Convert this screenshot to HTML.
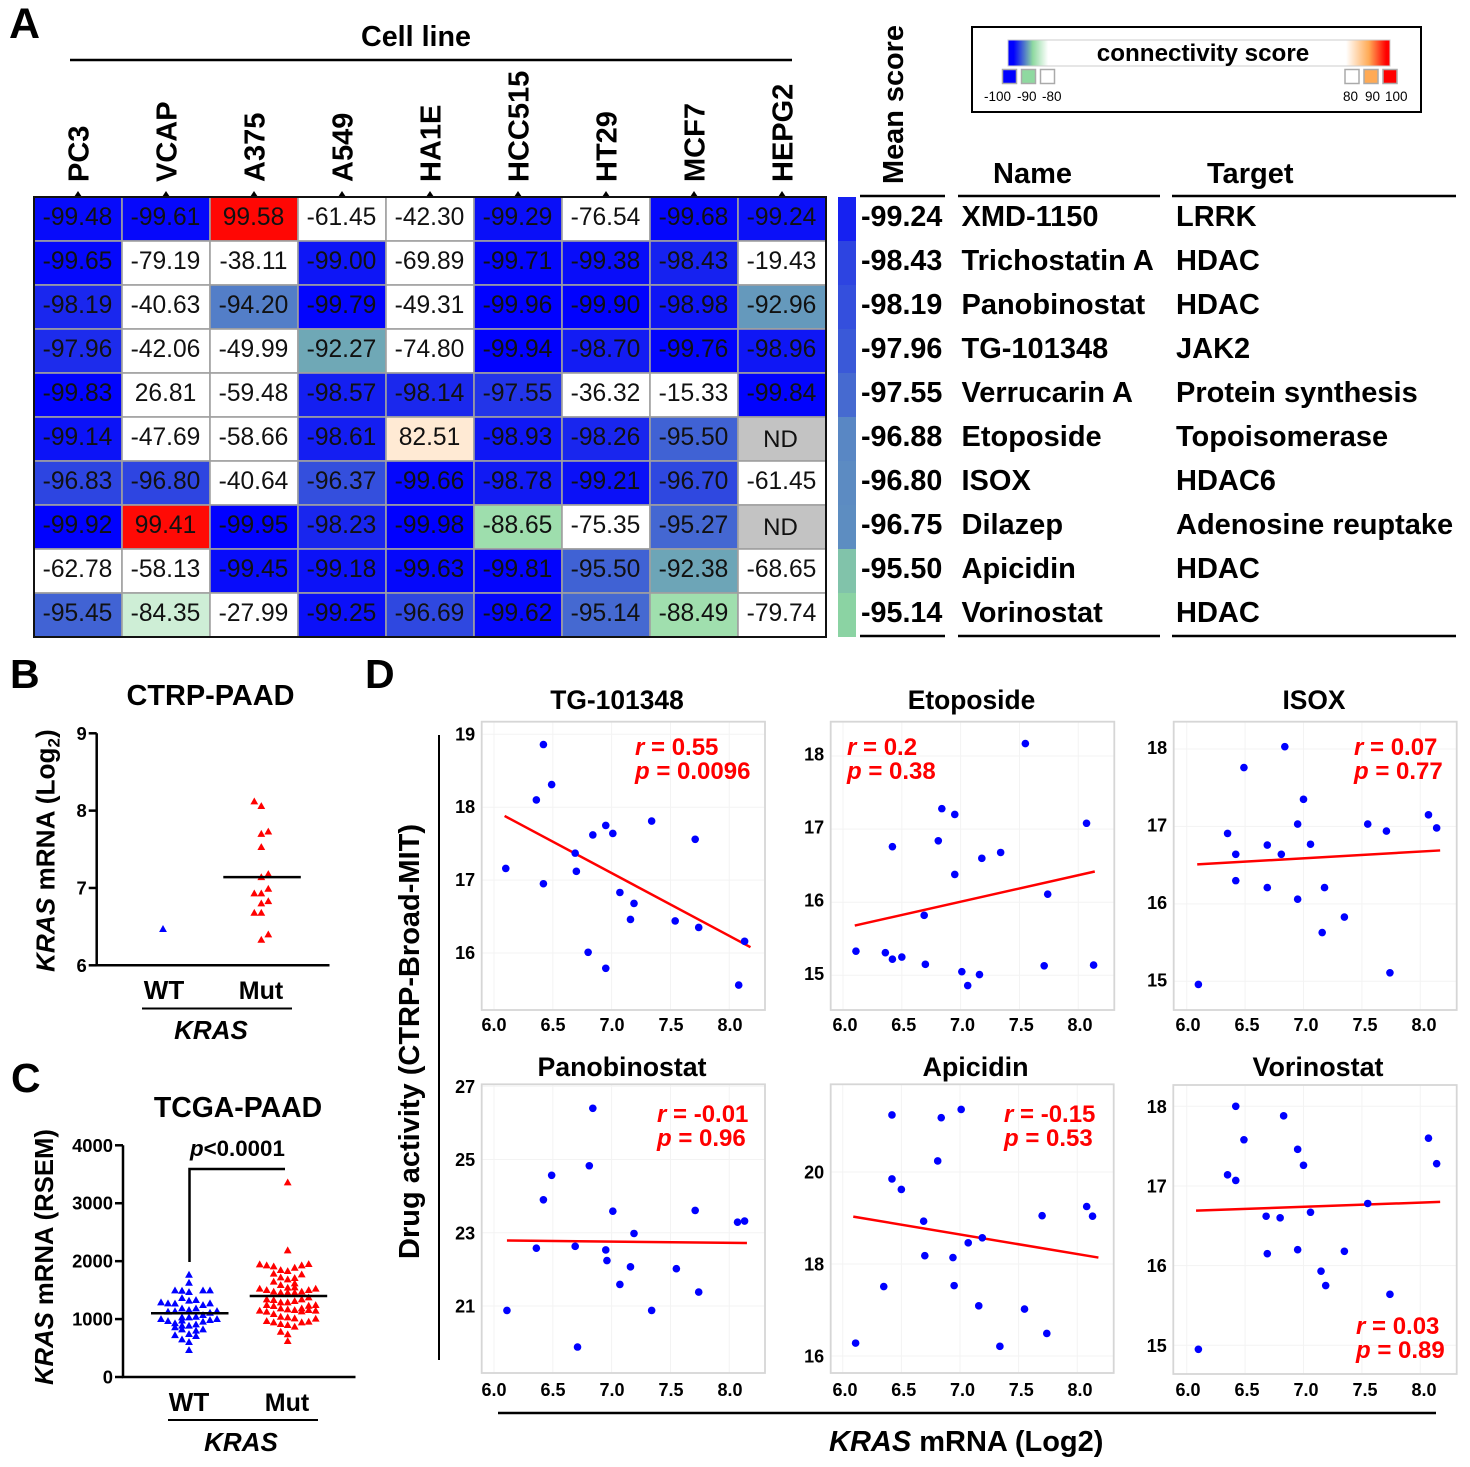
<!DOCTYPE html>
<html lang="en">
<head>
<meta charset="utf-8">
<title>KRAS connectivity figure</title>
<style>
html,body{margin:0;padding:0;background:#fff;}
svg{display:block;font-family:"Liberation Sans",sans-serif;}
.b{font-weight:bold;}
.i{font-style:italic;}
</style>
</head>
<body>
<svg id="fig" xmlns="http://www.w3.org/2000/svg" width="1470" height="1467" viewBox="0 0 1470 1467">
<defs>
<linearGradient id="scoreGrad" x1="0" x2="1" y1="0" y2="0">
<stop offset="0.015" stop-color="#0000ff"/>
<stop offset="0.065" stop-color="#8fd9a0"/>
<stop offset="0.105" stop-color="#ffffff"/>
<stop offset="0.885" stop-color="#ffffff"/>
<stop offset="0.945" stop-color="#ffaa55"/>
<stop offset="0.99" stop-color="#ff0000"/>
</linearGradient>
</defs>
<rect width="1470" height="1467" fill="#fff"/>

<!-- Panel letters -->
<text class="b" x="9" y="38" font-size="43">A</text>
<text class="b" x="10" y="688" font-size="41">B</text>
<text class="b" x="11" y="1092" font-size="41">C</text>
<text class="b" x="365" y="688" font-size="41">D</text>

<!-- Panel A headers -->
<text class="b" x="416" y="46" font-size="28.7" text-anchor="middle">Cell line</text>
<line x1="70" x2="792" y1="60" y2="60" stroke="#000" stroke-width="2.5"/>
<text class="b" font-size="28.9" transform="translate(903 184) rotate(-90)">Mean score</text>
<text class="b" x="993" y="183" font-size="29">Name</text>
<text class="b" x="1207" y="183" font-size="29">Target</text>
<g id="heatmap"></g>
<g id="table"></g>

<!-- Legend -->
<g>
<rect x="972" y="27" width="449" height="85" fill="#fff" stroke="#000" stroke-width="2"/>
<rect x="1008" y="40" width="382" height="26" fill="url(#scoreGrad)" stroke="#ccc" stroke-width="1"/>
<text class="b" x="1203" y="61" font-size="24.2" text-anchor="middle">connectivity score</text>
<rect x="1002.5" y="69.5" width="14" height="14" fill="#0000ff" stroke="#aaa" stroke-width="1.5"/>
<rect x="1021.5" y="69.5" width="14" height="14" fill="#8fd9a0" stroke="#aaa" stroke-width="1.5"/>
<rect x="1040.5" y="69.5" width="14" height="14" fill="#fff" stroke="#aaa" stroke-width="1.5"/>
<rect x="1345" y="69.5" width="14" height="14" fill="#fff" stroke="#aaa" stroke-width="1.5"/>
<rect x="1364" y="69.5" width="14" height="14" fill="#ffaa55" stroke="#aaa" stroke-width="1.5"/>
<rect x="1383" y="69.5" width="14" height="14" fill="#ff0000" stroke="#aaa" stroke-width="1.5"/>
<text x="984" y="101" font-size="13.5">-100</text>
<text x="1017" y="101" font-size="13.5">-90</text>
<text x="1042" y="101" font-size="13.5">-80</text>
<text x="1343" y="101" font-size="13.5">80</text>
<text x="1365" y="101" font-size="13.5">90</text>
<text x="1385" y="101" font-size="13.5">100</text>
</g>

<!-- Panel B static -->
<text class="b" x="210.5" y="705" font-size="28.9" text-anchor="middle">CTRP-PAAD</text>
<text class="b" font-size="26.2" transform="translate(54.5 972) rotate(-90)"><tspan class="i">KRAS</tspan> mRNA (Log<tspan font-size="17" dy="5">2</tspan><tspan dy="-5">)</tspan></text>
<text class="b" x="164" y="999" font-size="26" text-anchor="middle">WT</text>
<text class="b" x="261" y="999" font-size="25" text-anchor="middle">Mut</text>
<line x1="142" x2="292" y1="1008.5" y2="1008.5" stroke="#000" stroke-width="2"/>
<text class="b i" x="211" y="1039" font-size="26" text-anchor="middle">KRAS</text>
<g id="panelB"></g>

<!-- Panel C static -->
<text class="b" x="238" y="1117" font-size="28.4" text-anchor="middle">TCGA-PAAD</text>
<text class="b" font-size="25.7" transform="translate(53 1385) rotate(-90)"><tspan class="i">KRAS</tspan> mRNA (RSEM)</text>
<text class="b" x="190" y="1156" font-size="22.3"><tspan class="i">p</tspan>&lt;0.0001</text>
<path d="M189.5 1262V1169H285" fill="none" stroke="#000" stroke-width="2.5"/>
<text class="b" x="189" y="1411" font-size="26" text-anchor="middle">WT</text>
<text class="b" x="287" y="1411" font-size="25" text-anchor="middle">Mut</text>
<line x1="168" x2="318" y1="1420" y2="1420" stroke="#000" stroke-width="2"/>
<text class="b i" x="241" y="1451" font-size="26" text-anchor="middle">KRAS</text>
<g id="panelC"></g>

<!-- Panel D static -->
<text class="b" font-size="29" transform="translate(419 1259) rotate(-90)">Drug activity (CTRP-Broad-MIT)</text>
<line x1="439" x2="439" y1="735" y2="1360" stroke="#000" stroke-width="2"/>
<line x1="498" x2="1436" y1="1413" y2="1413" stroke="#000" stroke-width="2.5"/>
<text class="b" x="829" y="1451" font-size="29"><tspan class="i">KRAS</tspan> mRNA (Log2)</text>
<text class="b" x="617" y="709" font-size="26.4" text-anchor="middle">TG-101348</text>
<text class="b" x="971.5" y="709" font-size="26.4" text-anchor="middle">Etoposide</text>
<text class="b" x="1314" y="709" font-size="26.4" text-anchor="middle">ISOX</text>
<text class="b" x="622" y="1076" font-size="26.7" text-anchor="middle">Panobinostat</text>
<text class="b" x="975.5" y="1076" font-size="26.9" text-anchor="middle">Apicidin</text>
<text class="b" x="1318" y="1076" font-size="26.9" text-anchor="middle">Vorinostat</text>
<g id="panelD"></g>
<g fill="#ff0000" font-size="24" font-weight="bold">
<text x="635" y="755"><tspan class="i">r</tspan> = 0.55</text>
<text x="635" y="779"><tspan class="i">p</tspan> = 0.0096</text>
<text x="847" y="755"><tspan class="i">r</tspan> = 0.2</text>
<text x="847" y="779"><tspan class="i">p</tspan> = 0.38</text>
<text x="1354" y="755"><tspan class="i">r</tspan> = 0.07</text>
<text x="1354" y="779"><tspan class="i">p</tspan> = 0.77</text>
<text x="657" y="1122"><tspan class="i">r</tspan> = -0.01</text>
<text x="657" y="1146"><tspan class="i">p</tspan> = 0.96</text>
<text x="1004" y="1122"><tspan class="i">r</tspan> = -0.15</text>
<text x="1004" y="1146"><tspan class="i">p</tspan> = 0.53</text>
<text x="1356" y="1334"><tspan class="i">r</tspan> = 0.03</text>
<text x="1356" y="1358"><tspan class="i">p</tspan> = 0.89</text>
</g>
</svg>

<script>
// ---------- Panel A data ----------
const cellLines = ['PC3','VCAP','A375','A549','HA1E','HCC515','HT29','MCF7','HEPG2'];
const heatValues = [
[-99.48,-99.61,99.58,-61.45,-42.30,-99.29,-76.54,-99.68,-99.24],
[-99.65,-79.19,-38.11,-99.00,-69.89,-99.71,-99.38,-98.43,-19.43],
[-98.19,-40.63,-94.20,-99.79,-49.31,-99.96,-99.90,-98.98,-92.96],
[-97.96,-42.06,-49.99,-92.27,-74.80,-99.94,-98.70,-99.76,-98.96],
[-99.83,26.81,-59.48,-98.57,-98.14,-97.55,-36.32,-15.33,-99.84],
[-99.14,-47.69,-58.66,-98.61,82.51,-98.93,-98.26,-95.50,null],
[-96.83,-96.80,-40.64,-96.37,-99.66,-98.78,-99.21,-96.70,-61.45],
[-99.92,99.41,-99.95,-98.23,-99.98,-88.65,-75.35,-95.27,null],
[-62.78,-58.13,-99.45,-99.18,-99.63,-99.81,-95.50,-92.38,-68.65],
[-95.45,-84.35,-27.99,-99.25,-96.69,-99.62,-95.14,-88.49,-79.74]
];
const meanScores = [-99.24,-98.43,-98.19,-97.96,-97.55,-96.88,-96.80,-96.75,-95.50,-95.14];
const drugNames = ['XMD-1150','Trichostatin A','Panobinostat','TG-101348','Verrucarin A','Etoposide','ISOX','Dilazep','Apicidin','Vorinostat'];
const drugTargets = ['LRRK','HDAC','HDAC','JAK2','Protein synthesis','Topoisomerase','HDAC6','Adenosine reuptake','HDAC','HDAC'];

// ---------- Panel B data ----------
const bTicks = [6,7,8,9];
const bWTValues = [6.47];
const bWTSlots = [0];
const bMutValues = [8.12,8.06,7.70,7.73,7.53,7.14,7.18,6.99,6.93,6.93,6.80,6.83,6.68,6.68,6.40,6.33];
const bMutSlots = [-1,0,0,1,0,0,1,1,-1,0,0,1,-1,0,1,0];
const bMeans = [null,7.14];

// ---------- Panel C data ----------
const cTicks = [0,1000,2000,3000,4000];
const cWTValues = [1766,1628,1467,1318,1157,1030,886,742,604,466,1495,1269,1136,928,859,722,1490,1364,1185,1030,975,886,823,650,1272,1128,967,1289,1001,1329,1185,1041,909,800,708,1495,1243,1070,955,823,1495,1272,1110,984,1139,1001];
const cWTSlots = [0,0,0,0,0,0,0,0,0,0,-2,-2,-2,-2,-2,-2,-1,-1,-1,-1,-1,-1,-1,-1,-3,-3,-3,-4,-4,1,1,1,1,1,1,2,2,2,2,2,3,3,3,3,4,4];
const cMutValues = [3360,2187,1830,1686,1542,1456,1289,1168,1030,898,737,621,1945,1525,1145,1928,1502,1341,1243,1128,967,1910,1784,1646,1473,1329,1226,1087,944,1847,1720,1588,1456,1289,1185,1041,915,782,1887,1709,1617,1548,1456,1312,1157,1013,869,1928,1772,1473,1341,1185,1134,944,1951,1502,1375,1231,1157,955,1525,1243,1145,1007];
const cMutSlots = [0,0,0,0,0,0,0,0,0,0,0,0,-4,-4,-4,-3,-3,-3,-3,-3,-3,-2,-2,-2,-2,-2,-2,-2,-2,-1,-1,-1,-1,-1,-1,-1,-1,-1,1,1,1,1,1,1,1,1,1,2,2,2,2,2,2,2,3,3,3,3,3,3,4,4,4,4];
const cMeans = [1100,1398];

// ---------- Panel D data ----------
const xTickValues = [6,6.5,7,7.5,8];
const xTickLabels = ['6.0','6.5','7.0','7.5','8.0'];

const tgX = [6.10,6.36,6.42,6.42,6.49,6.69,6.70,6.80,6.84,6.95,6.95,7.01,7.07,7.16,7.19,7.34,7.54,7.71,7.74,8.08,8.13];
const tgY = [17.16,18.10,18.86,16.95,18.31,17.37,17.12,16.01,17.62,17.75,15.79,17.64,16.83,16.46,16.68,17.81,16.44,17.56,16.35,15.56,16.16];
const tgFitX = [6.09,8.18];
const tgFitY = [17.88,16.08];
const tgTicks = [16,17,18,19];

const etoX = [6.11,6.36,6.42,6.42,6.50,6.69,6.70,6.81,6.84,6.95,6.95,7.01,7.06,7.16,7.18,7.34,7.55,7.71,7.74,8.07,8.13];
const etoY = [15.33,15.31,15.22,16.76,15.25,15.82,15.15,16.84,17.28,17.20,16.38,15.05,14.86,15.01,16.60,16.68,18.17,15.13,16.11,17.08,15.14];
const etoFitX = [6.10,8.14];
const etoFitY = [15.68,16.42];
const etoTicks = [15,16,17,18];

const isoxX = [6.10,6.35,6.42,6.42,6.49,6.69,6.69,6.81,6.84,6.95,6.95,7.00,7.06,7.16,7.18,7.35,7.55,7.71,7.74,8.07,8.14];
const isoxY = [14.96,16.91,16.64,16.30,17.76,16.76,16.21,16.64,18.03,17.03,16.06,17.35,16.77,15.63,16.21,15.83,17.03,16.94,15.11,17.15,16.98];
const isoxFitX = [6.09,8.17];
const isoxFitY = [16.51,16.69];
const isoxTicks = [15,16,17,18];

const panoX = [6.11,6.36,6.42,6.49,6.69,6.71,6.81,6.84,6.95,6.96,7.01,7.07,7.16,7.19,7.34,7.55,7.71,7.74,8.07,8.13];
const panoY = [20.88,22.58,23.90,24.57,22.63,19.88,24.83,26.40,22.53,22.24,23.59,21.59,22.07,22.98,20.88,22.02,23.61,21.38,23.29,23.32];
const panoFitX = [6.11,8.15];
const panoFitY = [22.79,22.72];
const panoTicks = [21,23,25,27];

const apiX = [6.11,6.35,6.42,6.42,6.50,6.69,6.70,6.81,6.84,6.94,6.95,7.01,7.07,7.16,7.19,7.34,7.55,7.70,7.74,8.08,8.13];
const apiY = [16.28,17.51,21.24,19.85,19.62,18.93,18.18,20.24,21.18,18.14,17.53,21.36,18.46,17.09,18.57,16.21,17.02,19.05,16.49,19.25,19.04];
const apiFitX = [6.09,8.18];
const apiFitY = [19.03,18.14];
const apiTicks = [16,18,20];

const vorX = [6.10,6.35,6.42,6.42,6.49,6.68,6.69,6.80,6.83,6.95,6.95,7.00,7.06,7.15,7.19,7.35,7.55,7.74,8.07,8.14];
const vorY = [14.95,17.14,18.00,17.07,17.58,16.62,16.15,16.60,17.88,17.46,16.20,17.26,16.67,15.93,15.75,16.18,16.78,15.64,17.60,17.28];
const vorFitX = [6.08,8.17];
const vorFitY = [16.69,16.80];
const vorTicks = [15,16,17,18];

// ---------- helpers ----------
const NS = 'http://www.w3.org/2000/svg';
function mk(parent, tag, attrs, text) {
  const el = document.createElementNS(NS, tag);
  for (const k in attrs) el.setAttribute(k, attrs[k]);
  if (text !== undefined) el.textContent = text;
  parent.appendChild(el);
  return el;
}
function linear(d0, d1, r0, r1) {
  return function (v) { return r0 + (v - d0) * (r1 - r0) / (d1 - d0); };
}
function hex(c) { return [parseInt(c.slice(1,3),16),parseInt(c.slice(3,5),16),parseInt(c.slice(5,7),16)]; }
function ramp(stops, v) {
  if (v <= stops[0][0]) return stops[0][1];
  for (let i = 1; i < stops.length; i++) {
    if (v <= stops[i][0]) {
      const t = (v - stops[i-1][0]) / (stops[i][0] - stops[i-1][0]);
      const a = hex(stops[i-1][1]), b = hex(stops[i][1]);
      return 'rgb(' + a.map(function (x, j) { return Math.round(x + (b[j] - x) * t); }).join(',') + ')';
    }
  }
  return stops[stops.length-1][1];
}
const cellStops = [[-100,'#0000ff'],[-90,'#8fd9a0'],[-80,'#ffffff'],[80,'#ffffff'],[90,'#ffaa55'],[100,'#ff0000']];
const barStops = [[-100,'#0000ff'],[-95,'#8fd9a0']];

// ---------- Panel A heatmap ----------
(function () {
  const g = document.getElementById('heatmap');
  const colX = linear(0, 9, 34, 826);
  const rowY = linear(0, 10, 197, 637);
  const w = colX(1) - colX(0), h = rowY(1) - rowY(0);
  cellLines.forEach(function (name, c) {
    const label = mk(g, 'text', {x: 0, y: 0, 'font-size': 29, 'font-weight': 'bold',
      transform: 'translate(' + (colX(c) + w / 2 + 10.5) + ' 182) rotate(-90)'}, name);
    
    
    const cx = colX(c) + w / 2;
    const tick = mk(g, 'polygon', {points: (cx-4) + ',197 ' + cx + ',191 ' + (cx+4) + ',197', fill: '#000'});
    
    
  });
  heatValues.forEach(function (row, r) {
    row.forEach(function (v, c) {
      const fill = v === null ? '#c3c3c3' : ramp(cellStops, v);
      const cell = mk(g, 'rect', {x: colX(c), y: rowY(r), width: w, height: h, fill: fill, stroke: '#a0a0a0', 'stroke-width': 1.6});
      
      
      const t = mk(g, 'text', {x: colX(c) + w / 2 + (v === null ? -1.5 : -0.5), y: rowY(r) + (v === null ? 30 : 28), 'text-anchor': 'middle',
        'font-size': v === null ? 24 : 24.6, fill: '#111'}, v === null ? 'ND' : v.toFixed(2));
      
      
    });
  });
  const frame = mk(g, 'rect', {x: colX(0), y: rowY(0), width: colX(9) - colX(0), height: rowY(10) - rowY(0), fill: 'none', stroke: '#111', 'stroke-width': 2});
  
  
})();

// ---------- Panel A table ----------
(function () {
  const g = document.getElementById('table');
  const rowY = linear(0, 10, 197, 637);
  const h = rowY(1) - rowY(0);
  meanScores.forEach(function (m, r) {
    const bar = mk(g, 'rect', {x: 838, y: rowY(r), width: 18, height: h, fill: ramp(barStops, m)});
    
    
    const base = rowY(r) + 29;
    const a = mk(g, 'text', {x: 861, y: base, 'font-size': 28.7, 'font-weight': 'bold'}, m.toFixed(2));
    
    
    const b = mk(g, 'text', {x: 961.5, y: base, 'font-size': 29, 'font-weight': 'bold'}, drugNames[r]);
    
    
    const c = mk(g, 'text', {x: 1176, y: base, 'font-size': 29, 'font-weight': 'bold'}, drugTargets[r]);
    
    
  });
  [[860,945],[958,1160],[1172,1456]].forEach(function (s) {
    [196, 636].forEach(function (y) {
      const l = mk(g, 'line', {x1: s[0], x2: s[1], y1: y, y2: y, stroke: '#000', 'stroke-width': 2.5});
      
      
    });
  });
})();

// ---------- Dot plots ----------
function triangle(g, cx, cy, fill) {
  const p = mk(g, 'polygon', {points: (cx-3.9) + ',' + (cy+3) + ' ' + cx + ',' + (cy-3.9) + ' ' + (cx+3.9) + ',' + (cy+3), fill: fill});
  
  
}
function dotPlot(id, o) {
  const g = document.getElementById(id);
  const ax = mk(g, 'path', {d: 'M' + o.axisX + ' ' + o.y(o.ticks[o.ticks.length-1]) + 'V' + o.y(o.ticks[0]) + 'H' + o.axisEnd, fill: 'none', stroke: '#000', 'stroke-width': 2.5});
  
  
  o.ticks.forEach(function (t) {
    const tk = mk(g, 'line', {x1: o.axisX - o.tickLen, x2: o.axisX, y1: o.y(t), y2: o.y(t), stroke: '#000', 'stroke-width': 2.5});
    
    
    const lb = mk(g, 'text', {x: o.axisX - o.tickLen - 2, y: o.y(t) + 6.5, 'font-size': 18.4, 'font-weight': 'bold', 'text-anchor': 'end'}, String(t));
    
    
  });
  o.wt.forEach(function (v, i) { triangle(g, o.wtX + o.wtSlots[i] * 7, o.y(v), '#0000ff'); });
  o.mut.forEach(function (v, i) { triangle(g, o.mutX + o.mutSlots[i] * 7, o.y(v), '#ff0000'); });
  o.means.forEach(function (m, i) {
    if (m === null) return;
    const cx = i === 0 ? o.wtX : o.mutX;
    const l = mk(g, 'line', {x1: cx - 38, x2: cx + 39.5, y1: o.y(m), y2: o.y(m), stroke: '#000', 'stroke-width': 2.5});
    
    
  });
}
dotPlot('panelB', {ticks: bTicks, y: linear(6, 9, 965.3, 733.3), axisX: 96.7, axisEnd: 329.5, tickLen: 8,
  wt: bWTValues, wtSlots: bWTSlots, mut: bMutValues, mutSlots: bMutSlots, means: bMeans, wtX: 163, mutX: 261.3});
dotPlot('panelC', {ticks: cTicks, y: linear(0, 4000, 1377, 1145.3), axisX: 123, axisEnd: 355.5, tickLen: 8,
  wt: cWTValues, wtSlots: cWTSlots, mut: cMutValues, mutSlots: cMutSlots, means: cMeans, wtX: 189, mutX: 287.7});

// ---------- Scatter panels ----------
const scatterPanels = [
  {name:'tg-101348', xs:tgX, ys:tgY, fx:tgFitX, fy:tgFitY, ticks:tgTicks, box:[481.7,721.7,765,1010], xr:[494,729.3], yd:[16,19], yr:[953,734.3], lab:21, lx:[494,730], ly:-0.5},
  {name:'etoposide', xs:etoX, ys:etoY, fx:etoFitX, fy:etoFitY, ticks:etoTicks, box:[830.7,721.7,1114.3,1010], xr:[843,1078.3], yd:[15,18], yr:[975.3,756], lab:21, lx:[845,1080], ly:-2},
  {name:'isox', xs:isoxX, ys:isoxY, fx:isoxFitX, fy:isoxFitY, ticks:isoxTicks, box:[1173.7,721.7,1456.7,1010], xr:[1186.7,1420.3], yd:[15,18], yr:[981.3,749], lab:21, lx:[1188,1424], ly:-1.5},
  {name:'panobinostat', xs:panoX, ys:panoY, fx:panoFitX, fy:panoFitY, ticks:panoTicks, box:[481.7,1084.3,765,1373], xr:[494,729.3], yd:[21,27], yr:[1306,1086.3], lab:23, lx:[494,730], ly:0},
  {name:'apicidin', xs:apiX, ys:apiY, fx:apiFitX, fy:apiFitY, ticks:apiTicks, box:[830.7,1084.3,1113.7,1373], xr:[842.7,1077.3], yd:[16,20], yr:[1356,1172], lab:23, lx:[845,1080], ly:0},
  {name:'vorinostat', xs:vorX, ys:vorY, fx:vorFitX, fy:vorFitY, ticks:vorTicks, box:[1173.3,1085,1456.7,1374], xr:[1186.7,1420.3], yd:[15,18], yr:[1345.3,1106.3], lab:22, lx:[1188,1424], ly:0}
];
scatterPanels.forEach(function (p) {
  const root = document.getElementById('panelD');
  const g = mk(root, 'g', {});
  
  
  const x = linear(6, 8, p.xr[0], p.xr[1]);
  const y = linear(p.yd[0], p.yd[1], p.yr[0], p.yr[1]);
  const labelX = linear(6, 8, p.lx[0], p.lx[1]);
  const b = p.box;
  xTickValues.forEach(function (t, i) {
    const gl = mk(g, 'line', {x1: x(t), x2: x(t), y1: b[1], y2: b[3], stroke: '#f3f3f3', 'stroke-width': 1});
    
    
    const lb = mk(g, 'text', {x: labelX(t), y: b[3] + p.lab, 'font-size': 18, 'font-weight': 'bold', 'text-anchor': 'middle'}, xTickLabels[i]);
    
    
  });
  p.ticks.forEach(function (t) {
    const gl = mk(g, 'line', {x1: b[0], x2: b[2], y1: y(t), y2: y(t), stroke: '#f3f3f3', 'stroke-width': 1});
    
    
    const lb = mk(g, 'text', {x: b[0] - 6.5, y: y(t) + 6.5 + p.ly, 'font-size': 18, 'font-weight': 'bold', 'text-anchor': 'end'}, String(t));
    
    
  });
  const frame = mk(g, 'rect', {x: b[0], y: b[1], width: b[2] - b[0], height: b[3] - b[1], fill: 'none', stroke: '#d6d6d6', 'stroke-width': 1.8});
  
  
  const fit = mk(g, 'line', {x1: x(p.fx[0]), y1: y(p.fy[0]), x2: x(p.fx[1]), y2: y(p.fy[1]), stroke: '#ff0000', 'stroke-width': 2.5});
  
  
  p.xs.forEach(function (v, i) {
    const d = mk(g, 'circle', {cx: x(v), cy: y(p.ys[i]), r: 3.8, fill: '#0000ff'});
    
    
  });
});
</script>
</body>
</html>
